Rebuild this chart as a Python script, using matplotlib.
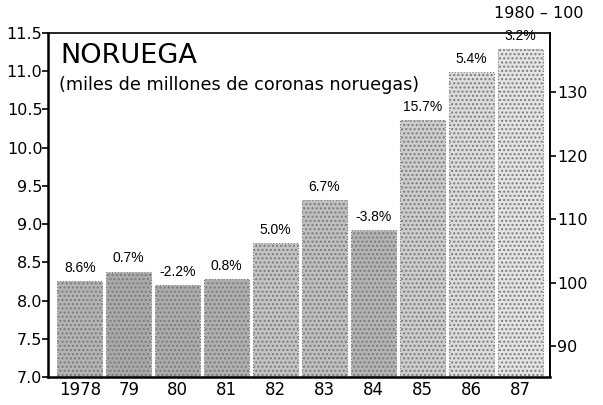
import matplotlib
matplotlib.use("Agg")
import matplotlib.pyplot as plt

plt.rcParams['font.family'] = ['DejaVu Sans']

years = ["1978", "79", "80", "81", "82", "83", "84", "85", "86", "87"]
values = [8.25, 8.38, 8.20, 8.28, 8.75, 9.31, 8.92, 10.36, 10.99, 11.29]
changes = ["8.6%", "0.7%", "-2.2%", "0.8%", "5.0%", "6.7%", "-3.8%", "15.7%", "5.4%", "3.2%"]
left_ticks = [7.0, 7.5, 8.0, 8.5, 9.0, 9.5, 10.0, 10.5, 11.0, 11.5]
right_ticks = [90, 100, 110, 120, 130]

bar_colors = ['#b4b4b4', '#aaaaaa', '#acacac', '#b0b0b0', '#c4c4c4', '#c0c0c0',
              '#b4b4b4', '#cdcdcd', '#dcdcdc', '#e4e4e4']

fig = plt.figure(figsize=(6.03, 4.05), dpi=100)
ax = fig.add_axes([48/603, 1-377/405, (550-48)/603, (377-33)/405])

x = list(range(len(years)))
ax.bar(x, [v - 7.0 for v in values], bottom=7.0, width=0.92,
       color=bar_colors, edgecolor='#7a7a7a', linewidth=0.8,
       linestyle=':', hatch='....')

for xi, v, c in zip(x, values, changes):
    ax.text(xi, v + 0.08, c, ha='center', va='bottom', fontsize=10,
            family=['Liberation Sans', 'DejaVu Sans'])

ax.set_xlim(-0.65, 9.61)
ax.set_ylim(7.0, 11.5)
ax.set_xticks(x)
ax.set_xticklabels(years, fontsize=12)
ax.set_yticks(left_ticks)
ax.set_yticklabels([f"{t:.1f}" for t in left_ticks], fontsize=11.5)
ax.tick_params(axis='x', length=0, pad=3)
ax.tick_params(axis='y', length=4, width=1.2, direction='out', pad=0)

for s in ['left', 'bottom']:
    ax.spines[s].set_linewidth(1.8)
for s in ['top', 'right']:
    ax.spines[s].set_linewidth(1.2)

def v2i(v):
    return 110 + (v - 9.065) / 0.0831

def i2v(i):
    return 9.065 + (i - 110) * 0.0831

sec = ax.secondary_yaxis('right', functions=(v2i, i2v))
sec.set_yticks(right_ticks)
sec.set_yticklabels([str(t) for t in right_ticks], fontsize=11.5)
sec.tick_params(length=4, width=1.2, direction='out', pad=1)
sec.spines['right'].set_linewidth(1.2)

fig.text(60/603, 1-43/405, "NORUEGA", fontsize=19.5, ha='left', va='top')
fig.text(59/603, 1-76/405, "(miles de millones de coronas noruegas)",
         fontsize=12.7, ha='left', va='top')
fig.text(539/603, 1-14/405, "1980 – 100", fontsize=11.5, ha='center', va='center')

fig.savefig("out.png", dpi=100)
